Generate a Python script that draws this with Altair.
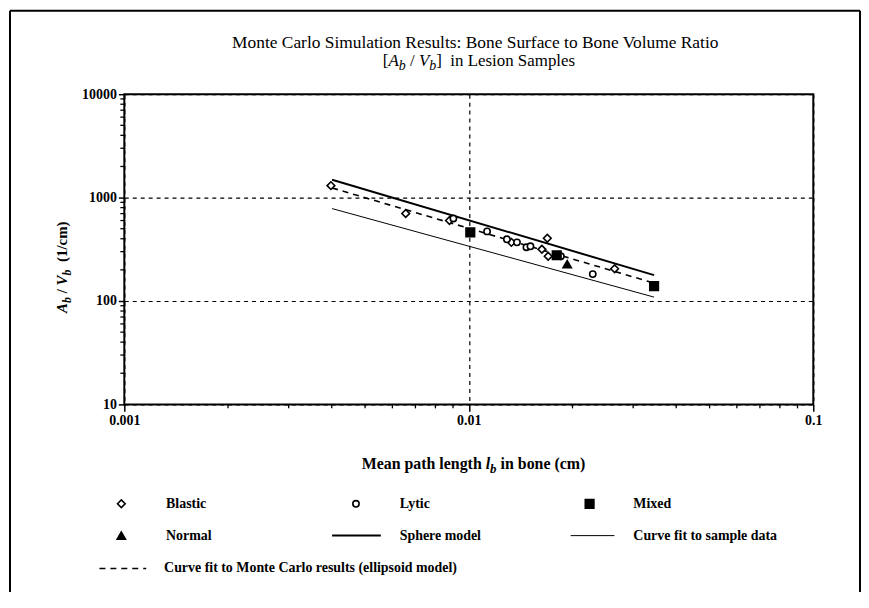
import altair as alt
import pandas as pd

FONT = "Liberation Serif"

# ---------------- data ----------------
blastic_x = [0.00398, 0.00656, 0.00879, 0.0133, 0.0163, 0.0169, 0.0170, 0.0265]
blastic_y = [1305, 702, 601, 369, 316, 404, 271, 205]
lytic_x = [0.00902, 0.0113, 0.0129, 0.0138, 0.0147, 0.0151, 0.0185, 0.0229]
lytic_y = [628, 471, 395, 369, 331, 338, 271, 182]
mixed_x = [0.0101, 0.0180, 0.0345]
mixed_y = [461, 277, 139]
normal_x = [0.0193]
normal_y = [227]

fit_x = [0.00401, 0.0345]
sphere_y = [1490, 178]
sample_fit_y = [783, 109]
mc_fit_y = [1240, 149]

x_major = [0.001, 0.01, 0.1]
y_major = [10, 100, 1000, 10000]
x_minor = [0.002, 0.003, 0.004, 0.005, 0.006, 0.007, 0.008, 0.009,
           0.02, 0.03, 0.04, 0.05, 0.06, 0.07, 0.08, 0.09]
y_minor = [20, 30, 40, 50, 60, 70, 80, 90,
           200, 300, 400, 500, 600, 700, 800, 900,
           2000, 3000, 4000, 5000, 6000, 7000, 8000, 9000]

title_line1 = "Monte Carlo Simulation Results: Bone Surface to Bone Volume Ratio"
legend_labels = ["Blastic", "Lytic", "Mixed", "Normal", "Sphere model",
                 "Curve fit to sample data",
                 "Curve fit to Monte Carlo results (ellipsoid model)"]

# ---------------- layout ----------------
OX, OY = 125, 93          # page position of the plot origin
W, H = 693, 312
PAD = {"left": OX - 8, "top": OY - 8, "right": 48, "bottom": 187}

xs = alt.Scale(type="log", domain=[0.001, 0.1])
ys = alt.Scale(type="log", domain=[10, 10000])

one = pd.DataFrame({"k": [0]})

x_axis = alt.Axis(values=x_major, format="~g", title="", grid=True,
                  gridDash=[4, 4], gridColor="black", gridWidth=1.2,
                  domain=False, tickSize=7, tickWidth=1.5, tickColor="black",
                  labelFont=FONT, labelFontSize=14, labelFontWeight="bold",
                  labelColor="black", labelPadding=2, labelFlush=False)
y_axis = alt.Axis(values=y_major, format="~g", title="", grid=True,
                  gridDash=[4, 4], gridColor="black", gridWidth=1.2,
                  domain=False, tickSize=6, tickWidth=1.5, tickColor="black",
                  labelFont=FONT, labelFontSize=14, labelFontWeight="bold",
                  labelColor="black", labelPadding=2)

XE = alt.X("x:Q", scale=xs, axis=x_axis)
YE = alt.Y("y:Q", scale=ys, axis=y_axis)


def txt(s, px, py, size, weight="normal", style="normal", align="left", angle=0):
    return alt.Chart(one).mark_text(
        font=FONT, fontSize=size, fontWeight=weight, fontStyle=style,
        align=align, baseline="middle", angle=angle, color="black"
    ).encode(x=alt.value(px - OX), y=alt.value(py - OY), text=alt.value(s))


def sym(shape, px, py, size, fill):
    return alt.Chart(one).mark_point(
        shape=shape, size=size, filled=True, fill=fill, stroke="black",
        strokeWidth=1.6, opacity=1
    ).encode(x=alt.value(px - OX), y=alt.value(py - OY))


def hseg(x1, x2, py, width, dash=None):
    kw = dict(color="black", strokeWidth=width)
    if dash:
        kw["strokeDash"] = dash
    return alt.Chart(one).mark_rule(**kw).encode(
        x=alt.value(x1 - OX), x2=alt.value(x2 - OX), y=alt.value(py - OY))


def vseg(px, y1, y2, width):
    return alt.Chart(one).mark_rule(color="black", strokeWidth=width).encode(
        x=alt.value(px - OX), y=alt.value(y1 - OY), y2=alt.value(y2 - OY))


layers = []

# fitted / model lines
lines_df = pd.DataFrame({
    "x": fit_x * 3,
    "y": sphere_y + sample_fit_y + mc_fit_y,
    "s": ["sphere"] * 2 + ["sample"] * 2 + ["mc"] * 2,
})
layers.append(alt.Chart(lines_df).transform_filter(alt.datum.s == "sphere")
              .mark_line(color="black", strokeWidth=2).encode(x=XE, y=YE))
layers.append(alt.Chart(lines_df).transform_filter(alt.datum.s == "sample")
              .mark_line(color="black", strokeWidth=1).encode(x=XE, y=YE))
layers.append(alt.Chart(lines_df).transform_filter(alt.datum.s == "mc")
              .mark_line(color="black", strokeWidth=1.6, strokeDash=[6, 5])
              .encode(x=XE, y=YE))

# minor ticks
layers.append(alt.Chart(pd.DataFrame({"x": x_minor})).mark_rule(color="black", strokeWidth=1.3)
              .encode(x=XE, y=alt.value(H), y2=alt.value(H + 4)))
layers.append(alt.Chart(pd.DataFrame({"y": y_minor})).mark_rule(color="black", strokeWidth=1.3)
              .encode(y=YE, x=alt.value(-4), x2=alt.value(1)))


# data points
def pts(xv, yv, shape, size, fill):
    return alt.Chart(pd.DataFrame({"x": xv, "y": yv})).mark_point(
        shape=shape, size=size, filled=True, fill=fill, stroke="black",
        strokeWidth=1.6, opacity=1
    ).encode(x=XE, y=YE)


layers.append(pts(blastic_x, blastic_y, "diamond", 60, "white"))
layers.append(pts(lytic_x, lytic_y, "circle", 40, "white"))
layers.append(pts(mixed_x, mixed_y, "square", 75, "black"))
layers.append(pts(normal_x, normal_y, "triangle-up", 70, "black"))

# title
layers.append(txt(title_line1, 478, 42, 17.5, align="center"))
for s, px, dy, size, style in [
    ("[", 385, 0, 17, "normal"), ("A", 390.7, 0, 17, "italic"),
    ("b", 401.1, 5, 14, "italic"), ("/", 412.4, 0, 17, "normal"),
    ("V", 421.3, 0, 17, "italic"), ("b", 431.7, 5, 14, "italic"),
    ("]", 438.7, 0, 17, "normal"), ("in Lesion Samples", 452.9, 0, 17, "normal"),
]:
    layers.append(txt(s, px, 60 + dy, size, style=style))

# y axis title (rotated)
for s, dx, py, size, style in [
    ("A", 0, 313, 15, "italic"), ("b", 5, 303, 12, "italic"),
    ("/", 0, 293.3, 15, "normal"), ("V", 0, 285.3, 15, "italic"),
    ("b", 5, 275.3, 12, "italic"), ("(1/cm)", 0, 261.8, 15, "normal"),
]:
    layers.append(txt(s, 62 + dx, py, size, weight="bold", style=style, angle=270))

# x axis title
X0 = 488.5
layers.append(txt("Mean path length", X0 - 4, 465, 16, weight="bold", align="right"))
layers.append(txt("l", X0, 465, 16, weight="bold", style="italic"))
layers.append(txt("b", X0 + 4.4, 470, 13, weight="bold", style="italic"))
layers.append(txt("in bone (cm)", X0 + 15, 465, 16, weight="bold"))

# legend
R1, R2, R3 = 505, 537, 570
layers.append(sym("diamond", 122, R1, 60, "white"))
layers.append(sym("circle", 358, R1, 40, "white"))
layers.append(sym("square", 593, R1, 75, "black"))
layers.append(sym("triangle-up", 122, R2, 70, "black"))
layers.append(hseg(334, 383, R2, 2))
layers.append(hseg(574, 618, R2, 1))
layers.append(hseg(100, 147, R3, 1.6, [6, 5]))
for lab, px, py in zip(legend_labels,
                       [167, 402, 637, 167, 402, 637, 165],
                       [R1, R1, R1, R2, R2, R2, R3]):
    layers.append(txt(lab, px, py, 14, weight="bold"))

# outer frame
layers.append(vseg(10, 9, 600, 2))
layers.append(vseg(865, 9, 600, 2))
layers.append(hseg(10, 865, 9, 2))

chart = alt.layer(*layers).properties(
    width=W, height=H,
    autosize=alt.AutoSizeParams(type="none"),
    padding=PAD,
    background="white",
).configure_view(stroke="black", strokeWidth=2)

chart.save("out.html", embed_options={"renderer": "svg", "actions": False})
